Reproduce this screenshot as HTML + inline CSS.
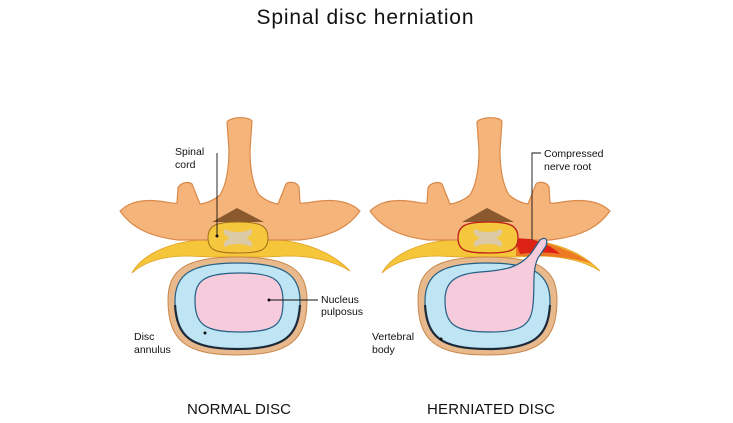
<!DOCTYPE html>
<html><head><meta charset="utf-8"><style>
html,body{margin:0;padding:0;background:#fff;}
svg{display:block;font-family:"Liberation Sans",Arial,sans-serif;}
</style></head><body>
<svg width="733" height="423" viewBox="0 0 733 423" xmlns="http://www.w3.org/2000/svg">
<defs>
<g id="band">
  <path d="M132,273 C140,258 160,246 190,241 L210,239 L266,239 L288,241 C318,246 338,258 350,271 C336,262 314,256 288,256 L266,257 L210,257 L188,256 C162,256 144,262 132,273 Z" fill="#f6c63a" stroke="#e0a020" stroke-width="0.8"/>
</g>
<g id="vert">
  <path d="M120,211 C128,203 140,199 158,201 C168,202 174,204 177,203 L178,188 C180,183 188,181 192,184 L200,204 C208,203 214,200 220,195 C226,185 229,170 229,150 L227,122 C230,117 248,116 252,121 L250,150 C250,170 253,185 259,195 C265,200 271,203 278,204 L286,184 C289,181 297,182 299,187 L300,203 C304,204 310,202 320,201 C338,199 352,203 360,211 C350,225 335,236 300,240 L178,240 C145,236 130,225 120,211 Z" fill="#f5b57a" stroke="#d9894a" stroke-width="1.2" stroke-linejoin="round"/>
  <path d="M212,222 L237,208 L264,222 Z" fill="#8a5a2e"/>
  <path d="M168,300 C168,270 185,257 237,257 C290,257 307,270 307,300 C307,340 290,355 237,355 C185,355 168,340 168,300 Z" fill="#e8b98c" stroke="#c8874a" stroke-width="1"/>
  <path d="M175,301 C175,275 190,263 237,263 C285,263 300,275 300,301 C300,336 285,349 237,349 C190,349 175,336 175,301 Z" fill="#bfe4f4" stroke="#245f85" stroke-width="1.2"/>
  <path d="M175,305 C177,336 190,349 237,349 C285,349 298,336 300,305" fill="none" stroke="#1c2a3a" stroke-width="2.2"/>
</g>
<g id="cord">
  <path d="M208,238 C208,226 215,222 238,222 C261,222 268,226 268,238 C268,250 261,253 238,253 C215,253 208,250 208,238 Z" fill="#f4c73c" stroke="#a0701a" stroke-width="1"/>
  <path d="M225,229 C232,233 244,233 251,229 C254,232 251,236 246,238 C251,240 254,244 251,247 C244,243 232,243 225,247 C222,244 225,240 230,238 C225,236 222,232 225,229 Z" fill="#dccaa6"/>
</g>
</defs>
<text x="365" y="24" font-size="21" text-anchor="middle" textLength="217" fill="#111">Spinal disc herniation</text>

<!-- normal -->
<use href="#band"/>
<use href="#vert"/>
<path d="M195,300 C195,280 205,273 240,273 C275,273 283,280 283,302 C283,325 275,332 240,332 C205,332 195,325 195,300 Z" fill="#f6cbdb" stroke="#245f85" stroke-width="1.2"/>
<use href="#cord"/>

<!-- herniated -->
<g transform="translate(250,0)"><use href="#band"/><use href="#vert"/></g>
<path d="M516,239 L538,241 C560,246 580,255 592,264 C575,258 555,256 540,256 L516,256 Z" fill="#e8601e" opacity="0.75"/>
<path d="M514,238 L530,239 C540,241 552,246 560,254 C548,252 535,252 520,254 Z" fill="#dd2315"/>
<path d="M445,300 C445,282 455,274 480,272 C505,270 520,268 532,252 L540,240 C546,236 548,240 546,246 L538,258 C532,270 535,285 533,305 C531,325 522,332 490,332 C455,332 445,325 445,300 Z" fill="#f6cbdb" stroke="#245f85" stroke-width="1.2"/>
<g transform="translate(250,0)"><use href="#cord"/></g>
<path d="M458,238 C458,226 465,222 488,222 C511,222 518,226 518,238 C518,250 511,253 488,253 C465,253 458,250 458,238 Z" fill="none" stroke="#c0201a" stroke-width="1.3"/>

<!-- leaders -->
<g stroke="#111" stroke-width="0.9" fill="none">
  <line x1="217" y1="153" x2="217" y2="236"/>
  <line x1="269" y1="300" x2="318" y2="300"/>
  <polyline points="532,240 532,153 541,153"/>
</g>
<g fill="#111">
  <circle cx="217" cy="236" r="1.5"/>
  <circle cx="269" cy="300" r="1.5"/>
  <circle cx="205" cy="333" r="1.5"/>
  <circle cx="441" cy="339" r="1.5"/>
</g>
<g font-size="10.5" fill="#111">
  <text x="175" y="155">Spinal</text><text x="175" y="168">cord</text>
  <text x="321" y="303">Nucleus</text><text x="321" y="315">pulposus</text>
  <text x="134" y="340">Disc</text><text x="134" y="353">annulus</text>
  <text x="544" y="157">Compressed</text><text x="544" y="170">nerve root</text>
  <text x="372" y="340">Vertebral</text><text x="372" y="353">body</text>
</g>
<text x="187" y="414" font-size="15" textLength="104" fill="#111">NORMAL DISC</text>
<text x="427" y="414" font-size="15" textLength="128" fill="#111">HERNIATED DISC</text>
</svg>
</body></html>
